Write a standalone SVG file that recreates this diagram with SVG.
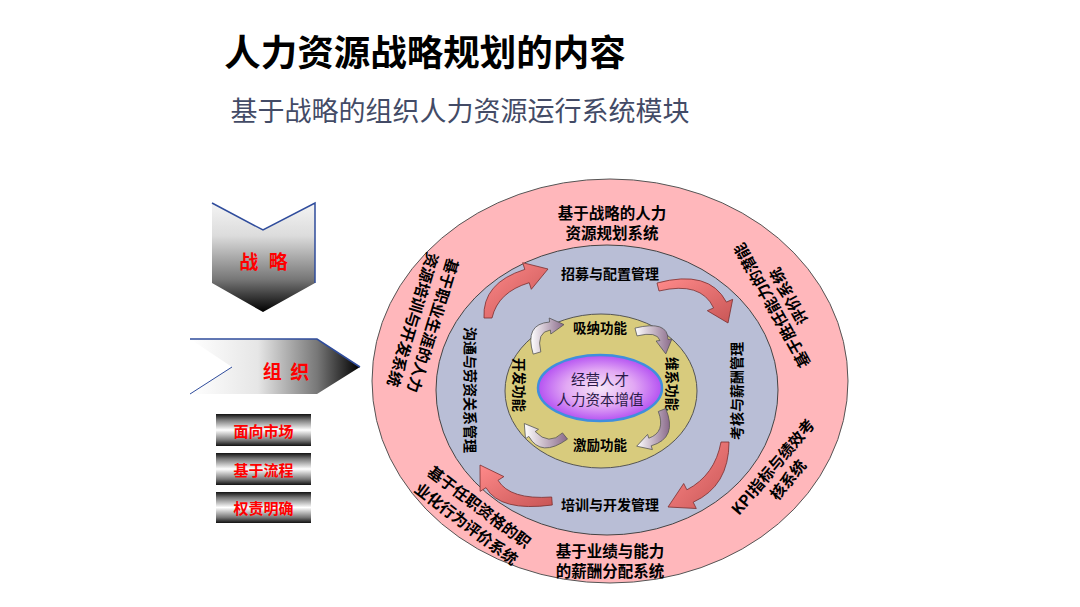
<svg xmlns="http://www.w3.org/2000/svg" width="1080" height="607" viewBox="0 0 1080 607">
<defs>
<style>
.t{font-family:"Noto Sans CJK SC","Noto Sans",sans-serif;text-anchor:middle;dominant-baseline:central}
.ring{font-size:15.5px;font-weight:bold;fill:#000}
.mid{font-size:14px;font-weight:bold;fill:#000}
.core{font-size:13.5px;font-weight:bold;fill:#000}
.red{fill:#FF0000;font-weight:bold}
.big{stroke:#7A2E2E;stroke-width:0.8;fill:url(#gRed)}
.small{stroke:#555;stroke-width:0.8;fill:url(#gPur)}
.blue{stroke:#2F4C9C;fill:none}
</style>
<linearGradient id="gStrat" x1="0" y1="0" x2="0" y2="1">
<stop offset="0" stop-color="#F4F4F4"/><stop offset="0.3" stop-color="#DCDCDC"/><stop offset="0.7" stop-color="#777"/><stop offset="1" stop-color="#000"/>
</linearGradient>
<linearGradient id="gOrg" x1="0" y1="0" x2="1" y2="0">
<stop offset="0" stop-color="#FFFFFF"/><stop offset="0.4" stop-color="#E6E6E6"/><stop offset="0.75" stop-color="#777"/><stop offset="1" stop-color="#000"/>
</linearGradient>
<linearGradient id="gBtn" x1="0" y1="0" x2="0" y2="1">
<stop offset="0" stop-color="#111"/><stop offset="0.18" stop-color="#777"/><stop offset="0.5" stop-color="#FFF"/><stop offset="0.82" stop-color="#777"/><stop offset="1" stop-color="#111"/>
</linearGradient>
<radialGradient id="gCore" cx="0.5" cy="0.5" r="0.5">
<stop offset="0" stop-color="#F6E6F8"/><stop offset="0.55" stop-color="#E2A8F4"/><stop offset="1" stop-color="#B552F2"/>
</radialGradient>
<linearGradient id="gRed" x1="0" y1="0" x2="1" y2="1">
<stop offset="0" stop-color="#FF8A8A"/><stop offset="1" stop-color="#C85656"/>
</linearGradient>
<linearGradient id="gPur" x1="0" y1="0" x2="1" y2="0">
<stop offset="0" stop-color="#FFFFFF"/><stop offset="1" stop-color="#8A6A8A"/>
</linearGradient>
</defs>
<rect width="1080" height="607" fill="#FFFFFF"/>

<g id="title">
<text class="t" x="425" y="50" style="font-size:36.5px;font-weight:bold;fill:#000">人力资源战略规划的内容</text>
<text class="t" x="460" y="109" style="font-size:27px;fill:#434B66">基于战略的组织人力资源运行系统模块</text>
</g>

<g id="strategy">
<path d="M212,203 L263,230 L315,203 L315,283 L263,312 L212,283 Z" fill="url(#gStrat)"/>
<path class="blue" d="M212,203 L263,230 L315,203 L315,283" stroke-width="1.5"/>
<text class="t red" x="265" y="260" style="font-size:19px;letter-spacing:3px">战 略</text>
</g>

<g id="organization">
<path d="M190,339 L317,339 L360,367 L317,394 L190,394 L232,367 Z" fill="url(#gOrg)"/>
<path class="blue" d="M190,339 L317,339 L360,367" stroke-width="1.5"/>
<path class="blue" d="M232,367 L190,394" stroke-width="1"/>
<text class="t red" x="287" y="370" style="font-size:19px;letter-spacing:2px">组 织</text>
</g>

<g id="btn-market">
<rect x="216" y="414" width="95" height="32" fill="url(#gBtn)"/>
<text class="t red" x="263.5" y="430" style="font-size:15px">面向市场</text>
</g>
<g id="btn-process">
<rect x="216" y="453" width="95" height="32" fill="url(#gBtn)"/>
<text class="t red" x="263.5" y="469" style="font-size:15px">基于流程</text>
</g>
<g id="btn-duty">
<rect x="216" y="492" width="95" height="31" fill="url(#gBtn)"/>
<text class="t red" x="263.5" y="507.5" style="font-size:15px">权责明确</text>
</g>

<g id="outer-ring">
<ellipse cx="610" cy="381" rx="238" ry="202" fill="#FFB7BB" stroke="#555" stroke-width="1"/>
<text class="t ring" x="612" y="212">基于战略的人力</text>
<text class="t ring" x="612" y="232">资源规划系统</text>
<text class="t ring" x="610" y="550">基于业绩与能力</text>
<text class="t ring" x="610" y="570">的薪酬分配系统</text>
<text class="t ring" transform="translate(434,326) rotate(107)">基于职业生涯的人力</text>
<text class="t ring" transform="translate(414,320) rotate(107)">资源培训与开发系统</text>
<text class="t ring" transform="translate(771,306) rotate(-119)">基于胜任能力的潜能</text>
<text class="t ring" transform="translate(787.6,296.8) rotate(-119)">评价系统</text>
<text class="t ring" transform="translate(480,506) rotate(37)">基于任职资格的职</text>
<text class="t ring" transform="translate(467,523) rotate(37)">业化行为评价系统</text>
<text class="t ring" transform="translate(772,466) rotate(-50)">KPI指标与绩效考</text>
<text class="t ring" transform="translate(787,479) rotate(-50)">核系统</text>
</g>

<g id="middle-ring">
<ellipse cx="607" cy="390" rx="171" ry="145" fill="#B9BED6" stroke="#444" stroke-width="1"/>
<text class="t mid" x="610" y="273">招募与配置管理</text>
<text class="t mid" x="610" y="504">培训与开发管理</text>
<text class="t mid" transform="translate(471,390) rotate(90)">沟通与劳资关系管理</text>
<text class="t mid" transform="translate(736,391) rotate(-90)">考核与薪酬管理</text>
</g>

<g id="inner-ring">
<ellipse cx="601" cy="391" rx="96" ry="77" fill="#D8CB7D" stroke="#555" stroke-width="1"/>
<text class="t core" x="600" y="327">吸纳功能</text>
<text class="t core" x="600" y="444">激励功能</text>
<text class="t core" transform="translate(520,385) rotate(90)">开发功能</text>
<text class="t core" transform="translate(673,384) rotate(90)">维系功能</text>
</g>

<g id="core">
<ellipse cx="600" cy="388" rx="62" ry="33" fill="url(#gCore)" stroke="#3F8FDD" stroke-width="2.5"/>
<text class="t" x="600" y="378.5" style="font-size:14.5px;fill:#2A1A48">经营人才</text>
<text class="t" x="600" y="398" style="font-size:14.5px;fill:#2A1A48">人力资本增值</text>
</g>

<g id="connectors">
<path class="big" d="M484,318 Q482,283 524.8,269.4 L522.7,262.7 L548,269 L531.3,289.3 L529.2,282.7 Q498,292 492,318 Z"/>
<path class="big" d="M657,283 Q709,269 726.4,302.1 L732.7,299.3 L728,323 L707.3,310.7 L713.6,307.9 Q701,281 659,291 Z"/>
<path class="big" d="M729,442 Q729,486 693.2,502.2 L696.3,508.5 L668,507 L683.7,483.5 L686.9,489.8 Q715,475 721,442 Z"/>
<path class="big" d="M552.3,505 Q500,512 486,487.7 L480.1,491.4 L480,465 L503.9,476.6 L498,480.3 Q510,500 551.7,497 Z"/>
<path class="small" d="M533.2,354.1 Q524,324 549.6,322 L549.2,318 L564,324.6 L550.8,334 L550.4,330 Q536,332 540.8,351.9 Z"/>
<path class="small" d="M635,328.1 Q668,320 668,339.5 L671.9,339 L665.8,353.9 L656.1,341 L660,340.5 Q657,331 637,335.9 Z"/>
<path class="small" d="M665.7,408.5 Q678,438 651.2,445.8 L652.4,449.6 L636.7,446.2 L647.6,434.4 L648.8,438.2 Q666,432 658.3,411.5 Z"/>
<path class="small" d="M567.5,439.1 Q541,458 528.8,436.4 L525.5,438.7 L524.3,423.5 L538.5,429.3 L535.2,431.6 Q549,446 562.5,432.9 Z"/>
</g>
</svg>
